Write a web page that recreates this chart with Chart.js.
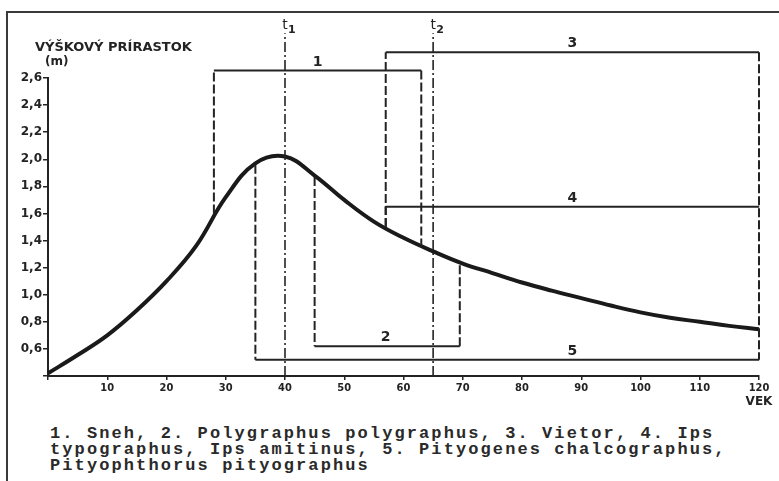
<!DOCTYPE html>
<html>
<head>
<meta charset="utf-8">
<script src="https://cdn.jsdelivr.net/npm/chart.js@4.4.1/dist/chart.umd.min.js"></script>
<style>
  body { margin: 0; background: #fff; }
  #wrap { position: relative; width: 779px; height: 481px; overflow: hidden; }
  #frame { position: absolute; left: 6px; top: 11px; right: -10px; bottom: -10px; border-left: 2px solid #3a3a3a; border-top: 2px solid #3a3a3a; }
  canvas { position: absolute; left: 0; top: 0; }
  #caption { position: absolute; left: 50px; top: 426px; font: bold 17px "Liberation Mono", monospace; letter-spacing: 2.1px; line-height: 16px; color: #2a2a2a; white-space: pre; }
</style>
</head>
<body>
<div id="wrap">
  <div id="frame"></div>
  <canvas id="chart" width="779" height="410"></canvas>
  <div id="caption">1. Sneh, 2. Polygraphus polygraphus, 3. Vietor, 4. Ips
typographus, Ips amitinus, 5. Pityogenes chalcographus,
Pityophthorus pityographus</div>
</div>
<script>
// height increment curve (age in years, increment in m)
const ages = [0, 5, 10, 15, 20, 25, 30, 35, 40, 45, 50, 55, 60, 65, 70, 75, 80, 85, 90, 95, 100, 105, 110, 115, 120];
const heights = [0.42, 0.555, 0.70, 0.885, 1.10, 1.36, 1.72, 1.97, 2.02, 1.88, 1.70, 1.54, 1.42, 1.32, 1.23, 1.16, 1.09, 1.03, 0.975, 0.92, 0.87, 0.83, 0.80, 0.77, 0.745];

// damage periods 1..5
const periodNames = ["1", "2", "3", "4", "5"];
const periodStart = [28, 45, 57, 57, 35];
const periodEnd = [63, 69.5, 120, 120, 120];
const periodLevel = [2.655, 0.62, 2.79, 1.65, 0.52];
const periodStartFoot = [1.60, 1.87, 1.50, 1.50, 1.96];
const periodEndFoot = [1.36, 1.24, 0.52, 1.65, 0.52];
const periodLabelAge = [45.5, 57, 88.5, 88.5, 88.5];

// t1, t2 marks
const markAges = [40, 65];
const markNames = ["1", "2"];
const markTop = 2.93;

const yTitle = "VÝŠKOVÝ PRÍRASTOK";
const yUnit = "(m)";
const xTitle = "VEK";

const ink = "#232323";
const datasets = [];

function seg(points, extra) {
    return Object.assign({
        data: points,
        borderColor: ink,
        borderWidth: 2,
        pointRadius: 0,
        tension: 0,
        clip: false
    }, extra);
}

periodStart.forEach((s, i) => {
    const e = periodEnd[i];
    const lv = periodLevel[i];
    datasets.push(seg([{ x: s, y: lv }, { x: e, y: lv }]));
    datasets.push(seg([{ x: s, y: periodStartFoot[i] }, { x: s, y: lv }], { borderDash: [9, 3] }));
    datasets.push(seg([{ x: e, y: lv }, { x: e, y: periodEndFoot[i] }], { borderDash: [9, 3] }));
});

markAges.forEach(a => {
    datasets.push(seg([{ x: a, y: 0.4 }, { x: a, y: markTop }], { borderDash: [10, 3, 2, 3], borderWidth: 1.6 }));
});

datasets.push(seg(ages.map((a, i) => ({ x: a, y: heights[i] })), {
    borderColor: "#1a1a1a",
    borderWidth: 4,
    tension: 0.4
}));

const annotate = {
    id: "annotate",
    afterDatasetsDraw(chart) {
        const { ctx, chartArea, scales: { x, y } } = chart;
        ctx.save();
        ctx.fillStyle = ink;
        ctx.textBaseline = "middle";
        ctx.textAlign = "left";
        ctx.font = "bold 13px 'DejaVu Sans'";
        ctx.fillText(yTitle, chartArea.left - 13, chartArea.top - 30);
        ctx.font = "bold 12px 'DejaVu Sans'";
        ctx.fillText(yUnit, chartArea.left - 3, chartArea.top - 16);
        ctx.textAlign = "center";
        ctx.fillText(xTitle, x.getPixelForValue(120), chartArea.bottom + 26);

        ctx.textBaseline = "alphabetic";
        ctx.font = "bold 14px 'DejaVu Sans'";
        periodNames.forEach((n, i) => {
            ctx.fillText(n, x.getPixelForValue(periodLabelAge[i]), y.getPixelForValue(periodLevel[i]) - 5);
        });

        markAges.forEach((a, i) => {
            const px = x.getPixelForValue(a);
            const py = y.getPixelForValue(markTop);
            ctx.textAlign = "center";
            ctx.font = "14px 'DejaVu Sans'";
            ctx.fillText("t", px, py - 4);
            ctx.textAlign = "left";
            ctx.font = "bold 11px 'DejaVu Sans'";
            ctx.fillText(markNames[i], px + 3, py);
        });
        ctx.restore();
    }
};

const ctx = document.getElementById("chart").getContext("2d");
const chart = new Chart(ctx, {
    type: "line",
    data: { datasets: datasets },
    plugins: [annotate],
    options: {
        responsive: false,
        animation: false,
        devicePixelRatio: 1,
        layout: { padding: { top: 78, right: 20, left: 0, bottom: 0 } },
        plugins: {
            legend: { display: false },
            tooltip: { enabled: false }
        },
        scales: {
            x: {
                type: "linear",
                min: 0,
                max: 120,
                ticks: {
                    stepSize: 10,
                    maxTicksLimit: 20,
                    autoSkip: false,
                    maxRotation: 0,
                    padding: 2,
                    color: ink,
                    font: { family: "'DejaVu Sans Condensed', 'Liberation Sans Narrow'", weight: "bold", size: 11 },
                    callback: v => v === 0 ? "" : v
                },
                grid: { drawOnChartArea: false, tickLength: 4, color: ink, lineWidth: 1.5 },
                border: { color: ink, width: 2 },
                afterFit: s => { s.height = 34; }
            },
            y: {
                min: 0.4,
                max: 2.6,
                ticks: {
                    stepSize: 0.2,
                    maxTicksLimit: 20,
                    padding: 1,
                    color: ink,
                    font: { family: "'DejaVu Sans'", weight: "bold", size: 12 },
                    callback: v => Math.abs(v - 0.4) < 1e-6 ? "" : v.toFixed(1).replace(".", ",")
                },
                grid: { drawOnChartArea: false, tickLength: 5, color: ink, lineWidth: 1.5 },
                border: { color: ink, width: 2 },
                afterFit: s => { s.width = 48; }
            }
        }
    }
});
</script>
</body>
</html>
